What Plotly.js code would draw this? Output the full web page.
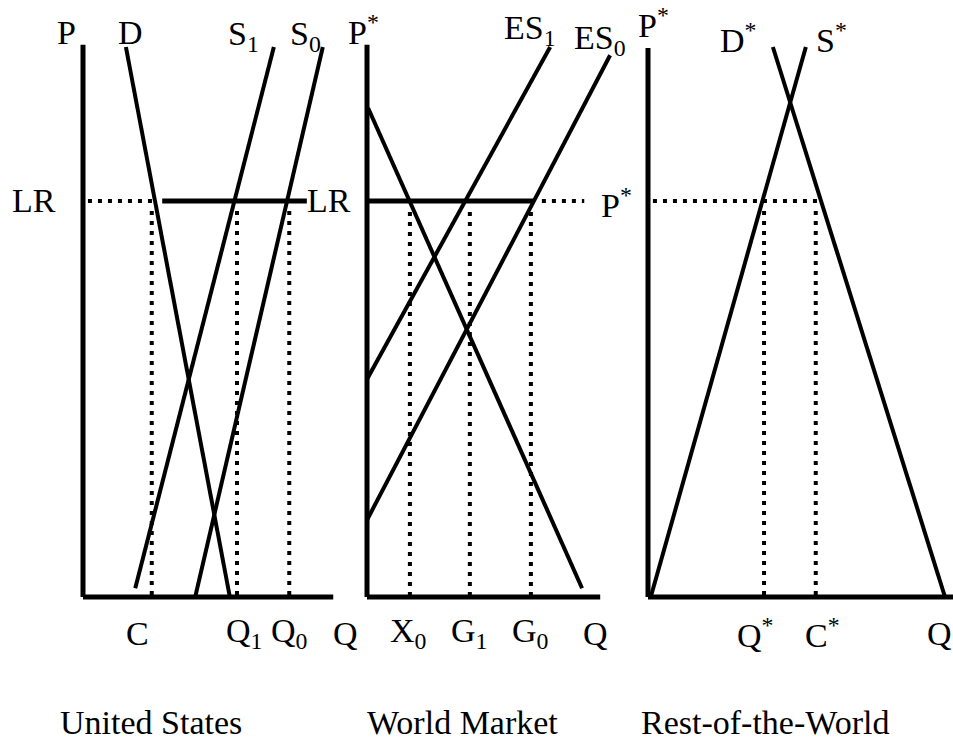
<!DOCTYPE html>
<html>
<head>
<meta charset="utf-8">
<script src="https://cdn.plot.ly/plotly-3.0.1.min.js"></script>
<style>html,body{margin:0;padding:0;background:#fff}#chart{width:953px;height:742px}</style>
</head>
<body>
<div id="chart"></div>
<script>
// ---------- United States panel (Q, P) ----------
const usAxisTop = 100.4;
const usAxisRight = 45.5;
const usD_q = [7.8, 26.7];
const usD_p = [100, 0];
const usS1_q = [34.7, 9.5];
const usS1_p = [100, 1.6];
const usS0_q = [43.6, 20.4];
const usS0_p = [100, 0];
const usLR = 72;
const usLRdot_q = [0.9, 13.1];
const usLRsolid_q = [14.4, 40.7];
const usVert_q = [12.5, 28, 37.5];   // C, Q1, Q0
const usVertTop = 70.2;

// ---------- World Market panel ----------
const wmAxisTop = 100.4;
const wmAxisRight = 42.4;
const wmED_q = [0.2, 39.1];
const wmED_p = [88.9, 1.6];
const wmES1_q = [33.3, 0];
const wmES1_p = [100, 39.6];
const wmES0_q = [44.2, 0];
const wmES0_p = [98.5, 14];
const wmP = 72;
const wmPsolid_q = [0, 30.2];
const wmPdot_q = [31.8, 39.5];
const wmVert_q = [7.8, 18.7, 29.8];  // X0, G1, G0
const wmVertTop = 70;

// ---------- Rest-of-the-World panel ----------
const rwAxisTop = 99.8;
const rwAxisRight = 55.45;
const rwD_q = [22.7, 54];
const rwD_p = [100, 0];
const rwS_q = [28.7, 0.5];
const rwS_p = [100, 0];
const rwP = 72;
const rwPdot_q = [0.9, 30.9];
const rwVert_q = [21.1, 30.5];       // Q*, C*
const rwVertTop = 70.2;

// ---------- labels ----------
const topLabels = [
  ['P', 66, 33], ['D', 130, 33], ['S<sub>1</sub>', 243, 36], ['S<sub>0</sub>', 305, 36],
  ['LR', 34, 200], ['LR', 329, 200],
  ['P<sup>*</sup>', 363, 30], ['ES<sub>1</sub>', 530, 30], ['ES<sub>0</sub>', 600, 40],
  ['P<sup>*</sup>', 616, 203],
  ['P<sup>*</sup>', 653, 23], ['D<sup>*</sup>', 738, 38], ['S<sup>*</sup>', 831, 38]
];
const bottomLabels = [
  ['C', 137], ['Q<sub>1</sub>', 244], ['Q<sub>0</sub>', 289], ['Q', 345],
  ['X<sub>0</sub>', 408], ['G<sub>1</sub>', 469], ['G<sub>0</sub>', 530], ['Q', 595],
  ['Q<sup>*</sup>', 755], ['C<sup>*</sup>', 822], ['Q', 939]
];
const panelTitles = [['United States', 151], ['World Market', 462], ['Rest-of-the-World', 765]];

const W = 953, H = 742;
const FONT = '"Liberation Serif", "Times New Roman", Times, serif';
const FS = 34;
const traces = [];
function line(xa, q, p, width, dash) {
  traces.push({type: 'scatter', mode: 'lines', x: q, y: p, xaxis: xa, yaxis: 'y',
    line: {color: '#000', width: width, dash: dash || 'solid'}, hoverinfo: 'skip', showlegend: false});
}
const DOT = '4px,6px';
// US
line('x', [0, 0], [0, usAxisTop], 5);
line('x', [0, usAxisRight], [0, 0], 5);
line('x', usD_q, usD_p, 4);
line('x', usS1_q, usS1_p, 4);
line('x', usS0_q, usS0_p, 4);
line('x', usLRdot_q, [usLR, usLR], 4, DOT);
line('x', usLRsolid_q, [usLR, usLR], 5);
usVert_q.forEach(q => line('x', [q, q], [usVertTop, 0], 4, DOT));
// World
line('x2', [0, 0], [0, wmAxisTop], 5);
line('x2', [0, wmAxisRight], [0, 0], 5);
line('x2', wmED_q, wmED_p, 4);
line('x2', wmES1_q, wmES1_p, 4);
line('x2', wmES0_q, wmES0_p, 4);
line('x2', wmPsolid_q, [wmP, wmP], 5);
line('x2', wmPdot_q, [wmP, wmP], 4, DOT);
wmVert_q.forEach(q => line('x2', [q, q], [wmVertTop, 0], 4, DOT));
// RoW
line('x3', [0, 0], [0, rwAxisTop], 5);
line('x3', [0, rwAxisRight], [0, 0], 5);
line('x3', rwD_q, rwD_p, 4);
line('x3', rwS_q, rwS_p, 4);
line('x3', rwPdot_q, [rwP, rwP], 4, DOT);
rwVert_q.forEach(q => line('x3', [q, q], [rwVertTop, 0], 4, DOT));

const ann = [];
function addText(t, px, py) {
  ann.push({text: t, xref: 'paper', yref: 'paper', x: px / W, y: 1 - py / H,
    xanchor: 'center', yanchor: 'middle', showarrow: false,
    font: {family: FONT, size: FS, color: '#000'}});
}
topLabels.forEach(l => addText(l[0], l[1], l[2]));
bottomLabels.forEach(l => addText(l[0], l[1], 633));
panelTitles.forEach(l => addText(l[0], l[1], 722));

const ax = (dom, rng) => ({domain: dom, range: rng, visible: false, fixedrange: true, showgrid: false, zeroline: false});
const layout = {
  width: W, height: H, margin: {l: 0, r: 0, t: 0, b: 0},
  paper_bgcolor: '#fff', plot_bgcolor: 'rgba(0,0,0,0)',
  showlegend: false,
  font: {family: FONT, size: FS, color: '#000'},
  xaxis: ax([0, 350 / W], [-83 / 5.5, 267 / 5.5]),
  xaxis2: Object.assign(ax([350 / W, 640 / W], [-17 / 5.5, 273 / 5.5]), {anchor: 'y'}),
  xaxis3: Object.assign(ax([640 / W, 1], [-8 / 5.5, 305 / 5.5]), {anchor: 'y'}),
  yaxis: ax([0, 1], [-145 / 5.5, 597 / 5.5]),
  annotations: ann
};
Plotly.newPlot('chart', traces, layout, {staticPlot: true, displayModeBar: false});
</script>
</body>
</html>
